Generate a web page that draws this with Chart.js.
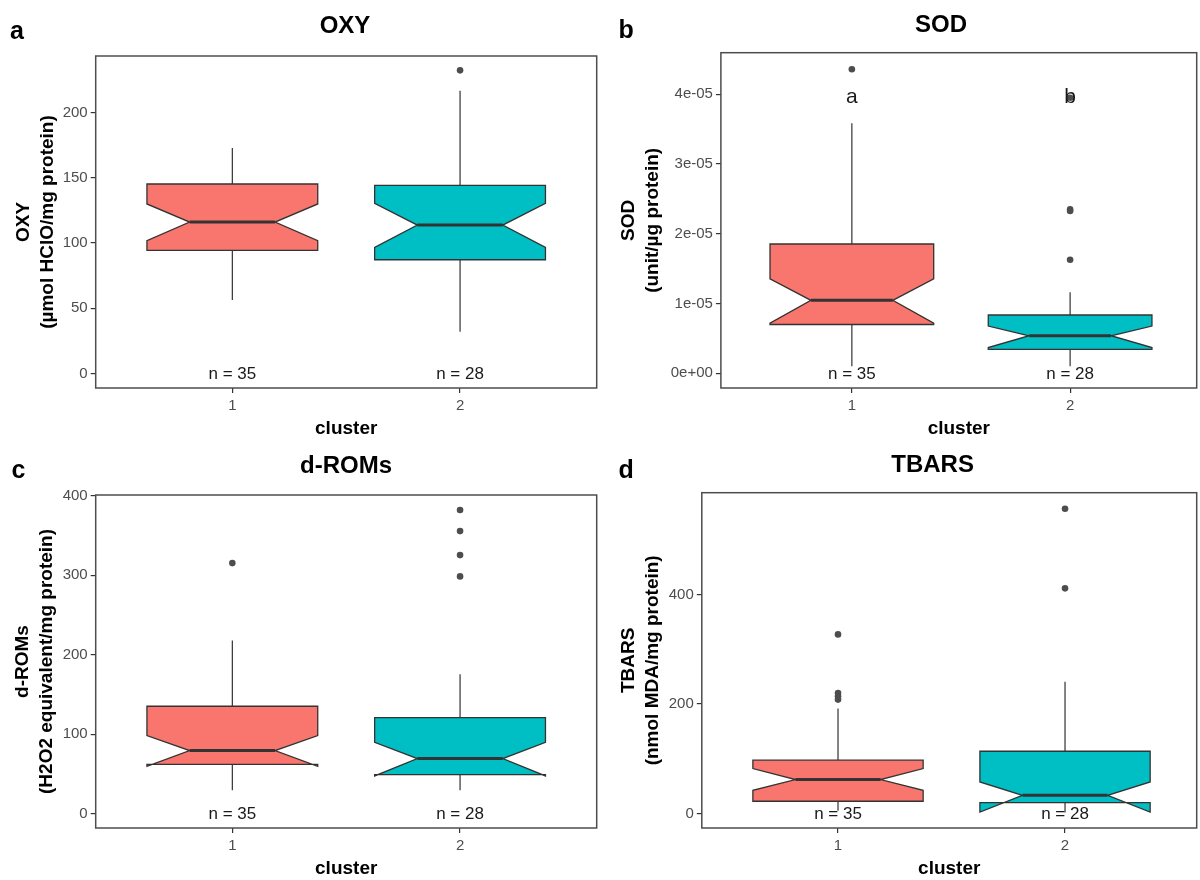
<!DOCTYPE html>
<html>
<head>
<meta charset="utf-8">
<script src="https://cdn.jsdelivr.net/npm/chart.js@4/dist/chart.umd.min.js"></script>
<style>
  body { margin: 0; background: #fff; }
  #wrap { position: relative; width: 1200px; height: 880px; }
  #wrap canvas { position: absolute; }
</style>
</head>
<body>
<div id="wrap">
  <canvas id="oxyChart" width="600" height="440" style="left:0;top:0"></canvas>
  <canvas id="sodChart" width="600" height="440" style="left:600px;top:0"></canvas>
  <canvas id="dromsChart" width="600" height="440" style="left:0;top:440px"></canvas>
  <canvas id="tbarsChart" width="600" height="440" style="left:600px;top:440px"></canvas>
</div>
<script>
// clusters and group sizes
const clusters = [1, 2];
const clusterN = [35, 28];

// OXY (µmol HClO/mg protein)
const oxyWhiskerLow = [56.3, 31.9];
const oxyQ1 = [94.4, 87.2];
const oxyNotchLow = [101.8, 96.7];
const oxyMedian = [116.1, 113.8];
const oxyNotchHigh = [130.0, 130.5];
const oxyQ3 = [145.3, 144.3];
const oxyWhiskerHigh = [172.9, 216.9];
const oxyOutliers = [[], [232.5]];
const oxyTicks = [0, 50, 100, 150, 200];

// SOD (unit/µg protein)
const sodWhiskerLow = [0.10e-5, 0.10e-5];
const sodQ1 = [0.70e-5, 0.344e-5];
const sodNotchLow = [0.72e-5, 0.37e-5];
const sodMedian = [1.047e-5, 0.539e-5];
const sodNotchHigh = [1.356e-5, 0.678e-5];
const sodQ3 = [1.854e-5, 0.836e-5];
const sodWhiskerHigh = [3.584e-5, 1.161e-5];
const sodOutliers = [[4.358e-5], [1.629e-5, 2.35e-5, 2.327e-5, 3.95e-5]];
const sodTicks = [0, 1e-5, 2e-5, 3e-5, 4e-5];
const sodTickLabels = ['0e+00', '1e-05', '2e-05', '3e-05', '4e-05'];
const sodLetters = ['a', 'b'];

// d-ROMs (H2O2 equivalent/mg protein)
const dromsWhiskerLow = [29.3, 29.3];
const dromsQ1 = [62.0, 49.1];
const dromsNotchLow = [59.6, 47.4];
const dromsMedian = [79.3, 69.3];
const dromsNotchHigh = [98.2, 89.8];
const dromsQ3 = [135.1, 120.9];
const dromsWhiskerHigh = [217.9, 175.4];
const dromsOutliers = [[315.2], [382, 355.5, 325.3, 298.5]];
const dromsTicks = [0, 100, 200, 300, 400];

// TBARS (nmol MDA/mg protein)
const tbarsWhiskerLow = [5, 2];
const tbarsQ1 = [22.5, 20.1];
const tbarsNotchLow = [42.6, 2.9];
const tbarsMedian = [62.1, 33.4];
const tbarsNotchHigh = [82.2, 57.7];
const tbarsQ3 = [97.4, 113.8];
const tbarsWhiskerHigh = [191.8, 240.4];
const tbarsOutliers = [[327, 220, 214, 208], [556.3, 411]];
const tbarsTicks = [0, 200, 400];

const fills = ['#F8766D', '#00BFC4'];
const FONT = "'Liberation Sans', Arial, sans-serif";
const boxWidth = 0.75;

Chart.defaults.font.family = FONT;
Chart.defaults.color = '#4d4d4d';

// draws notched boxes, whiskers, n labels, the border and panel titles
const notchedBoxPlugin = {
  id: 'notchedBox',
  beforeDatasetsDraw(chart, args, o) {
    const { ctx, scales: { x, y } } = chart;
    const py = v => y.getPixelForValue(v);
    clusters.forEach((c, i) => {
      const cx = x.getPixelForValue(c);
      const left = x.getPixelForValue(c - boxWidth / 2);
      const right = x.getPixelForValue(c + boxWidth / 2);
      const tipL = x.getPixelForValue(c - boxWidth / 4);
      const tipR = x.getPixelForValue(c + boxWidth / 4);
      ctx.save();
      ctx.strokeStyle = '#333';
      ctx.lineWidth = 1.2;
      ctx.beginPath();
      ctx.moveTo(cx, py(o.q3[i])); ctx.lineTo(cx, py(o.hi[i]));
      ctx.moveTo(cx, py(o.q1[i])); ctx.lineTo(cx, py(o.lo[i]));
      ctx.stroke();

      ctx.beginPath();
      ctx.moveTo(left, py(o.q3[i]));
      ctx.lineTo(left, py(o.notchHi[i]));
      ctx.lineTo(tipL, py(o.med[i]));
      ctx.lineTo(left, py(o.notchLo[i]));
      ctx.lineTo(left, py(o.q1[i]));
      ctx.lineTo(right, py(o.q1[i]));
      ctx.lineTo(right, py(o.notchLo[i]));
      ctx.lineTo(tipR, py(o.med[i]));
      ctx.lineTo(right, py(o.notchHi[i]));
      ctx.lineTo(right, py(o.q3[i]));
      ctx.closePath();
      ctx.fillStyle = fills[i];
      ctx.fill();
      ctx.lineWidth = 1.3;
      ctx.stroke();

      ctx.beginPath();
      ctx.lineWidth = 3;
      ctx.moveTo(tipL, py(o.med[i]));
      ctx.lineTo(tipR, py(o.med[i]));
      ctx.stroke();
      ctx.restore();
    });
  },
  afterDatasetsDraw(chart, args, o) {
    const { ctx, scales: { x, y } } = chart;
    ctx.save();
    ctx.fillStyle = '#1a1a1a';
    ctx.textAlign = 'center';
    ctx.textBaseline = 'middle';
    ctx.font = '17px ' + FONT;
    clusters.forEach((c, i) => {
      ctx.fillText('n = ' + clusterN[i], x.getPixelForValue(c), y.getPixelForValue(0) + 1);
    });
    if (o.letters) {
      ctx.font = '21px ' + FONT;
      clusters.forEach((c, i) => {
        ctx.fillText(o.letters[i], x.getPixelForValue(c), y.getPixelForValue(o.letterY));
      });
    }
    ctx.restore();
  },
  afterDraw(chart, args, o) {
    const { ctx, chartArea: a } = chart;
    ctx.save();
    ctx.strokeStyle = '#4d4d4d';
    ctx.lineWidth = 1.5;
    ctx.strokeRect(a.left, a.top, a.right - a.left, a.bottom - a.top);
    ctx.fillStyle = '#000';
    ctx.textBaseline = 'alphabetic';
    ctx.textAlign = 'left';
    ctx.font = 'bold 25px ' + FONT;
    ctx.fillText(o.panel, o.panelX, o.panelY);
    ctx.textAlign = 'center';
    ctx.font = 'bold 24px ' + FONT;
    ctx.fillText(o.title, o.titleX, o.titleY);
    ctx.restore();
  }
};

function outlierPoints(list) {
  return clusters.map((c, i) => ({
    data: list[i].map(v => ({ x: c, y: v })),
    pointRadius: 3.3,
    pointHoverRadius: 3.3,
    pointBackgroundColor: '#4d4d4d',
    pointBorderWidth: 0
  }));
}

function makePanel(id, p) {
  return new Chart(document.getElementById(id).getContext('2d'), {
    type: 'scatter',
    data: { datasets: outlierPoints(p.outliers) },
    options: {
      responsive: false,
      animation: false,
      events: [],
      layout: { padding: { top: p.top, right: 0.5, left: 0, bottom: 0 } },
      scales: {
        x: {
          type: 'linear',
          min: 0.4,
          max: p.xMax,
          afterBuildTicks: s => { s.ticks = clusters.map(v => ({ value: v })); },
          afterFit: s => { s.height = 52; },
          border: { display: false },
          grid: { drawOnChartArea: false, tickLength: 5, color: '#333', lineWidth: 1.2 },
          ticks: { font: { size: 15 }, padding: 4, color: '#4d4d4d', callback: v => String(v) },
          title: {
            display: true, text: 'cluster', color: '#000',
            font: { size: 19, weight: 'bold' }, padding: { top: 0, bottom: 0 }
          }
        },
        y: {
          type: 'linear',
          min: p.yMin,
          max: p.yMax,
          afterBuildTicks: s => { s.ticks = p.ticks.map(v => ({ value: v })); },
          afterFit: s => { s.width = p.yWidth; },
          border: { display: false },
          grid: { drawOnChartArea: false, tickLength: 5, color: '#333', lineWidth: 1.2 },
          ticks: {
            font: { size: 15 }, padding: 3, color: '#4d4d4d',
            callback: (v, i) => p.tickLabels ? p.tickLabels[i] : String(v)
          },
          title: {
            display: true, text: p.yTitle, color: '#000',
            font: { size: 19, weight: 'bold', lineHeight: 1.25 },
            padding: { top: p.titlePad, bottom: 0 }
          }
        }
      },
      plugins: {
        legend: { display: false },
        tooltip: { enabled: false },
        notchedBox: {
          lo: p.lo, q1: p.q1, notchLo: p.notchLo, med: p.med, notchHi: p.notchHi, q3: p.q3, hi: p.hi,
          letters: p.letters, letterY: p.letterY,
          panel: p.panel, panelX: p.panelX, panelY: p.panelY,
          title: p.title, titleX: p.titleX, titleY: p.titleY
        }
      }
    },
    plugins: [notchedBoxPlugin]
  });
}

makePanel('oxyChart', {
  panel: 'a', panelX: 10, panelY: 39.3, title: 'OXY', titleX: 345, titleY: 33.3,
  yTitle: ['OXY', '(µmol HClO/mg protein)'], titlePad: 12,
  top: 56, yWidth: 95.7, xMax: 2.6, yMin: -11.2, yMax: 243.5, ticks: oxyTicks,
  lo: oxyWhiskerLow, q1: oxyQ1, notchLo: oxyNotchLow, med: oxyMedian,
  notchHi: oxyNotchHigh, q3: oxyQ3, hi: oxyWhiskerHigh, outliers: oxyOutliers
});

makePanel('sodChart', {
  panel: 'b', panelX: 18.4, panelY: 38.3, title: 'SOD', titleX: 341, titleY: 32.3,
  yTitle: ['SOD', '(unit/µg protein)'], titlePad: 16.7,
  top: 52.7, yWidth: 120.9, xMax: 2.58, yMin: -0.21e-5, yMax: 4.596e-5,
  ticks: sodTicks, tickLabels: sodTickLabels,
  letters: sodLetters, letterY: 3.96e-5,
  lo: sodWhiskerLow, q1: sodQ1, notchLo: sodNotchLow, med: sodMedian,
  notchHi: sodNotchHigh, q3: sodQ3, hi: sodWhiskerHigh, outliers: sodOutliers
});

makePanel('dromsChart', {
  panel: 'c', panelX: 11.5, panelY: 38.3, title: 'd-ROMs', titleX: 346, titleY: 33.3,
  yTitle: ['d-ROMs', '(H2O2 equivalent/mg protein)'], titlePad: 11,
  top: 55, yWidth: 95.7, xMax: 2.6, yMin: -18.1, yMax: 400.9, ticks: dromsTicks,
  lo: dromsWhiskerLow, q1: dromsQ1, notchLo: dromsNotchLow, med: dromsMedian,
  notchHi: dromsNotchHigh, q3: dromsQ3, hi: dromsWhiskerHigh, outliers: dromsOutliers
});

makePanel('tbarsChart', {
  panel: 'd', panelX: 18.4, panelY: 38.3, title: 'TBARS', titleX: 332.6, titleY: 32.3,
  yTitle: ['TBARS', '(nmol MDA/mg protein)'], titlePad: 16.7,
  top: 52.7, yWidth: 101.8, xMax: 2.58, yMin: -26.3, yMax: 585.6, ticks: tbarsTicks,
  lo: tbarsWhiskerLow, q1: tbarsQ1, notchLo: tbarsNotchLow, med: tbarsMedian,
  notchHi: tbarsNotchHigh, q3: tbarsQ3, hi: tbarsWhiskerHigh, outliers: tbarsOutliers
});
</script>
</body>
</html>
